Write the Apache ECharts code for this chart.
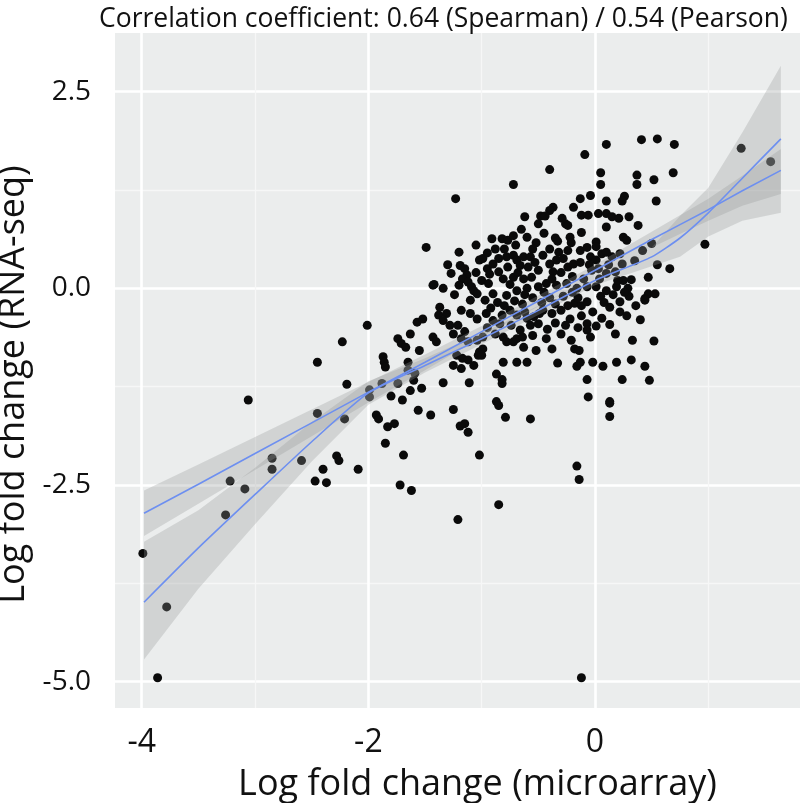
<!DOCTYPE html>
<html>
<head>
<meta charset="utf-8">
<script src="https://cdn.jsdelivr.net/npm/echarts@6/dist/echarts.min.js"></script>
<style>
  html, body { margin: 0; padding: 0; background: #fff; }
  #chart { width: 800px; height: 803px; }
</style>
</head>
<body>
<div id="chart"></div>
<script>
// microarray vs RNA-seq log fold changes
var genePoints = [
  [-3.99,-3.37],[-3.78,-4.05],[-3.86,-4.95],[-3.06,-1.42],[-3.22,-2.45],[-3.09,-2.55],[-3.26,-2.88],
  [-2.85,-2.16],[-2.85,-2.30],[-2.59,-2.19],[-2.45,-0.94],[-2.45,-1.59],[-2.47,-2.45],[-2.37,-2.47],
  [-2.40,-2.30],[-2.28,-2.13],[-2.26,-2.19],[-2.23,-0.68],[-2.19,-1.22],[-2.21,-1.66],[-2.09,-2.30],
  [-2.01,-0.47],[-1.99,-1.29],[-1.99,-1.38],[-1.93,-1.61],[-1.91,-1.66],[-1.87,-0.87],[-1.86,-0.94],
  [-1.85,-1.00],[-1.88,-1.21],[-1.85,-1.97],[-1.83,-1.76],[-1.77,-1.72],[-1.80,-1.37],[-1.74,-1.21],
  [-1.74,-0.64],[-1.71,-0.70],[-1.67,-0.75],[-1.72,-2.50],[-1.69,-2.12],[-1.70,-1.42],[-1.65,-0.94],
  [-1.65,-1.04],[-1.63,-0.58],[-1.62,-2.57],[-1.60,-1.17],[-1.63,-1.30],[-1.59,-1.08],[-1.55,-0.79],
  [-1.56,-1.55],[-1.53,-1.27],[-1.57,-0.43],[-1.52,-0.39],[-1.45,-1.61],[-1.43,-0.62],[-1.40,-0.68],
  [-1.34,-1.20],[-1.49,0.52],[-1.43,0.04],[-1.34,0.00],[-1.38,-0.34],
  [-1.25,-1.54],[-1.19,-1.75],[-1.15,-1.72],[-1.12,-1.83],[-1.11,-1.20],[-1.02,-2.12],
  [-1.37,-0.24],[-1.31,-0.32],[-1.34,-0.41],[-1.28,-0.47],[-1.21,-0.47],[-1.18,-0.28],[-1.10,-0.32],
  [-1.04,-0.39],[-1.25,-0.58],[-1.18,-0.64],[-1.12,-0.68],[-1.22,-0.85],[-1.17,-0.89],[-1.12,-0.91],
  [-1.07,-0.98],[-1.25,-0.98],[-1.18,-1.02],[-1.03,-0.85],[-1.04,-0.66],[-1.02,-0.81],
  [-0.85,-2.75],[-1.21,-2.94],[-0.12,-4.95],
  [-1.23,1.14],[-1.20,0.46],[-1.02,0.36],[-1.19,0.29],[-1.15,0.25],[-1.13,0.17],[-1.17,0.12],
  [-1.12,0.08],[-1.09,0.02],[-1.27,0.19],[-1.42,0.05],[-1.24,-0.08],[-1.20,0.04],[-1.07,-0.03],
  [-1.04,-0.07],[-1.30,0.30],[-1.05,0.20],[-1.00,0.10],[-0.95,0.25],
  [-0.72,1.32],[-0.40,1.51],[-0.09,1.70],[0.10,1.83],[0.41,1.89],[0.55,1.90],[0.70,1.83],[0.05,1.47],
  [0.05,1.32],[0.37,1.44],[0.37,1.32],[0.52,1.38],[0.69,1.47],[0.54,1.11],[0.26,1.17],[0.24,1.11],
  [0.10,1.11],[-0.04,1.18],[-0.13,1.14],[-0.19,1.03],[-0.37,1.03],[-0.40,0.99],[-0.48,0.92],
  [-0.44,0.92],[-0.62,0.91],[-0.29,0.89],[-0.26,0.82],[-0.24,0.80],[-0.12,0.93],[-0.06,0.93],
  [0.03,0.95],[0.10,0.95],[0.15,0.91],[0.21,0.89],[0.30,0.91],[0.10,0.78],[-0.12,0.71],[-0.91,0.63],
  [-0.82,0.63],[-0.77,0.61],[-0.72,0.67],[-0.88,0.50],[-0.52,0.58],[-0.35,0.64],[-0.33,0.60],
  [-0.22,0.65],[-0.21,0.58],[-0.40,0.50],[-0.32,0.46],[-0.24,0.48],[-0.13,0.48],[-0.07,0.52],
  [0.01,0.59],[0.01,0.53],[0.25,0.65],[0.28,0.61],[0.50,0.57],[-0.99,0.38],[-0.90,0.31],[-0.85,0.21],
  [-0.78,0.40],[-0.72,0.42],[-0.69,0.36],[-0.63,0.40],[-0.57,0.40],[-0.77,0.27],[-0.66,0.29],
  [-0.59,0.27],[-0.81,0.12],[-0.72,0.14],[-0.63,0.12],[-0.56,0.14],[-0.94,0.06],[-0.50,0.23],
  [-0.40,0.31],[-0.34,0.36],[-0.37,0.21],[-0.24,0.27],[-0.19,0.31],[-0.13,0.33],[-0.04,0.40],
  [0.01,0.36],[0.06,0.44],[0.10,0.46],[0.15,0.40],[0.22,0.44],[0.24,0.31],[-0.03,0.23],[0.03,0.25],
  [0.10,0.19],[0.18,0.21],[0.32,0.11],[0.25,0.10],[0.47,0.14],[0.66,0.25],[-0.90,-0.07],[-0.78,-0.09],
  [-0.69,-0.03],[-0.60,0.00],[-0.50,0.02],[-0.43,0.06],[-0.34,0.04],[-0.25,0.06],[-0.16,0.00],
  [-0.07,0.02],[0.01,0.02],[0.10,-0.03],[0.19,0.02],[0.29,0.00],[0.47,-0.07],[0.53,-0.07],
  [-1.05,0.55],[-0.95,0.45],[-0.80,0.50],[-0.70,0.55],[-0.60,0.65],[-0.55,0.50],[-0.65,0.75],
  [-0.45,0.70],[-0.50,0.82],[0.35,0.35],[0.42,0.48],[0.38,0.80],[0.55,0.30],
  [1.29,1.78],[1.55,1.61],[0.97,0.56],[0.44,-0.13],
  [-0.18,-0.19],[-0.12,-0.22],[-0.07,-0.17],[0.13,-0.24],[0.22,-0.17],[0.44,-0.15],[0.22,-0.30],
  [-0.46,-0.28],[-0.22,-0.39],[-0.26,-0.47],[-0.35,-0.44],[-0.07,-0.45],[0.01,-0.48],[-0.07,-0.53],
  [-0.04,-0.62],[0.13,-0.46],[0.18,-0.58],[0.33,-0.66],[0.52,-0.67],[-0.43,-0.64],[-0.38,-0.77],
  [-0.21,-0.66],[-0.18,-0.77],[-0.14,-0.79],[-0.63,-0.75],[-0.52,-0.79],[-0.81,-0.94],[-0.69,-0.94],
  [-0.60,-0.94],[-0.33,-0.95],[-0.16,-0.99],[-0.13,-0.94],[-0.02,-0.94],[0.07,-0.99],[0.19,-0.94],
  [0.32,-0.91],[0.44,-0.99],[-0.07,-1.16],[0.24,-1.16],[0.48,-1.17],[-0.87,-1.09],[-0.82,-1.16],
  [-0.82,-1.21],[-0.06,-1.38],[0.13,-1.44],[0.13,-1.46],[0.13,-1.63],[-0.87,-1.44],[-0.85,-1.49],
  [-0.79,-1.64],[-0.57,-1.66],[-0.16,-2.26],[-0.14,-2.43],
  [-0.96,-0.32],[-0.90,-0.41],[-0.82,-0.34],[-0.75,-0.28],[-0.69,-0.34],[-0.62,-0.30],[-0.54,-0.36],
  [-0.49,-0.32],[-0.57,-0.47],[-0.50,-0.45],[-0.66,-0.53],[-0.74,-0.47],[-0.88,-0.58],[-0.81,-0.62],
  [-0.78,-0.68],[-0.72,-0.68],[-0.69,-0.64],[-0.99,-0.62],[-0.99,-0.77],[-1.00,-0.85],
  [-0.97,-0.15],[-0.86,-0.18],[-0.80,-0.22],[-0.71,-0.16],[-0.64,-0.20],[-0.55,-0.12],[-0.47,-0.18],
  [-0.40,-0.12],[-0.35,-0.20],[-0.28,-0.10],[-0.30,-0.28],[-0.20,-0.05],[0.05,-0.10],[0.16,-0.08],
  [0.30,-0.10],[0.36,-0.22],[0.28,-0.35],[0.40,-0.40],[-0.42,-0.52],[-0.30,-0.58],[-0.15,-0.50],
  [-0.12,-0.35],[-0.55,-0.60],[-0.64,-0.62],
  [-0.93,0.18],[-0.85,0.38],[-0.75,0.05],[-0.68,0.20],[-0.62,-0.08],[-0.53,0.33],[-0.46,0.42],
  [-0.45,-0.05],[-0.38,0.12],[-0.30,0.20],[-0.28,0.38],[-0.20,0.15],[-0.15,-0.12],[-0.10,0.12],
  [-0.05,0.30],[0.04,0.12],[0.08,-0.18],[0.12,0.30],[0.20,0.10],[0.26,-0.05],[-0.92,-0.25],
  [-0.84,-0.45],[-0.60,-0.38],[-0.38,-0.32],[-0.24,-0.22],[-0.02,-0.30],[0.06,-0.38],[-1.10,-0.15],
  [-1.15,-0.55],[-0.95,-0.50]
];

// fitted curves (linear model and loess) with their confidence bands
var fitX      = [-3.98, -3.5, -3.0, -2.5, -2.0, -1.5, -1.0, -0.5, 0.0, 0.5, 0.75, 1.0, 1.3, 1.64];
var linearFit = [-2.86, -2.49, -2.10, -1.71, -1.32, -0.94, -0.55, -0.16, 0.23, 0.62, 0.81, 1.00, 1.24, 1.50];
var linearLo  = [-3.15, -2.74, -2.31, -1.88, -1.45, -1.04, -0.62, -0.23, 0.16, 0.52, 0.69, 0.86, 1.05, 1.20];
var linearHi  = [-2.57, -2.24, -1.89, -1.54, -1.19, -0.84, -0.48, -0.09, 0.30, 0.72, 0.93, 1.14, 1.43, 1.77];
var loessFit  = [-3.99, -3.30, -2.62, -1.95, -1.33, -0.98, -0.64, -0.28, 0.10, 0.40, 0.64, 0.96, 1.40, 1.90];
var loessLo   = [-4.72, -3.82, -3.00, -2.20, -1.48, -1.07, -0.71, -0.34, 0.04, 0.28, 0.40, 0.66, 0.86, 0.96];
var loessHi   = [-3.22, -2.82, -2.28, -1.70, -1.18, -0.89, -0.57, -0.22, 0.16, 0.52, 0.92, 1.28, 1.98, 2.83];

var xMajor = [-4, -2, 0];
var xMinor = [-3, -1, 1];
var yMajor = [-5, -2.5, 0, 2.5];
var yMinor = [-3.75, -1.25, 1.25];

var FONT = 'Open Sans';
var xMin = -4.236, xMax = 1.809, yMin = -5.335, yMax = 3.246;

function pairs(xs, ys) {
  return xs.map(function (x, i) { return [x, ys[i]]; });
}

function bandSeries(lo, hi) {
  return {
    type: 'custom',
    data: [0],
    xAxisIndex: 1, yAxisIndex: 1,
    clip: true,
    silent: true,
    z: 3,
    renderItem: function (params, api) {
      var pts = [];
      for (var i = 0; i < fitX.length; i++) pts.push(api.coord([fitX[i], hi[i]]));
      for (var j = fitX.length - 1; j >= 0; j--) pts.push(api.coord([fitX[j], lo[j]]));
      return { type: 'polygon', shape: { points: pts }, style: { fill: 'rgba(150,152,152,0.30)' } };
    }
  };
}

function fitLine(ys, smooth) {
  return {
    type: 'line',
    data: pairs(fitX, ys),
    xAxisIndex: 1, yAxisIndex: 1,
    smooth: smooth,
    showSymbol: false,
    silent: true,
    z: 4,
    lineStyle: { color: '#6d8ff0', width: 1.6 }
  };
}

function xAxisDef(values, major) {
  return {
    type: 'value', min: xMin, max: xMax, position: 'bottom',
    axisLine: { show: false },
    axisTick: { show: false, customValues: values },
    axisLabel: major ? { customValues: values, fontFamily: FONT, fontSize: 32, color: '#111', margin: 19 } : { show: false, customValues: values },
    splitLine: { show: true, lineStyle: { color: major ? '#ffffff' : '#f6f7f7', width: major ? 2.6 : 1.3 } },
    name: major ? 'Log fold change (microarray)' : '',
    nameLocation: 'middle', nameGap: 59,
    nameTextStyle: { fontFamily: FONT, fontSize: 36, color: '#111', padding: [0, 0, 0, 40] }
  };
}

function yAxisDef(values, major) {
  return {
    type: 'value', min: yMin, max: yMax, position: 'left',
    axisLine: { show: false },
    axisTick: { show: false, customValues: values },
    axisLabel: major ? {
      customValues: values, fontFamily: FONT, fontSize: 28, color: '#111', margin: 24,
      formatter: function (v) { return v.toFixed(1); }
    } : { show: false, customValues: values },
    splitLine: { show: true, lineStyle: { color: major ? '#ffffff' : '#f6f7f7', width: major ? 2.6 : 1.3 } },
    name: major ? 'Log fold change (RNA-seq)' : '',
    nameLocation: 'middle', nameGap: 72,
    nameTextStyle: { fontFamily: FONT, fontSize: 36, color: '#111', padding: [0, 28, 0, 0] }
  };
}

var chart = echarts.init(document.getElementById('chart'));
chart.setOption({
  animation: false,
  backgroundColor: '#ffffff',
  title: {
    text: 'Correlation coefficient: 0.64 (Spearman) / 0.54 (Pearson)',
    left: 94, top: 1,
    textStyle: { fontFamily: FONT, fontSize: 26.5, fontWeight: 'normal', color: '#111' }
  },
  grid: {
    left: 115, right: 0, top: 33, bottom: 95,
    show: true, backgroundColor: '#ebeded', borderWidth: 0,
    containLabel: false, outerBoundsMode: 'none'
  },
  xAxis: [xAxisDef(xMinor, false), xAxisDef(xMajor, true)],
  yAxis: [yAxisDef(yMinor, false), yAxisDef(yMajor, true)],
  series: [
    {
      type: 'scatter',
      data: genePoints,
      xAxisIndex: 1, yAxisIndex: 1,
      symbolSize: 9,
      itemStyle: { color: '#0a0a0a', opacity: 1 },
      silent: true,
      z: 2
    },
    bandSeries(linearLo, linearHi),
    bandSeries(loessLo, loessHi),
    fitLine(linearFit, false),
    fitLine(loessFit, 0.2)
  ]
});
</script>
</body>
</html>
